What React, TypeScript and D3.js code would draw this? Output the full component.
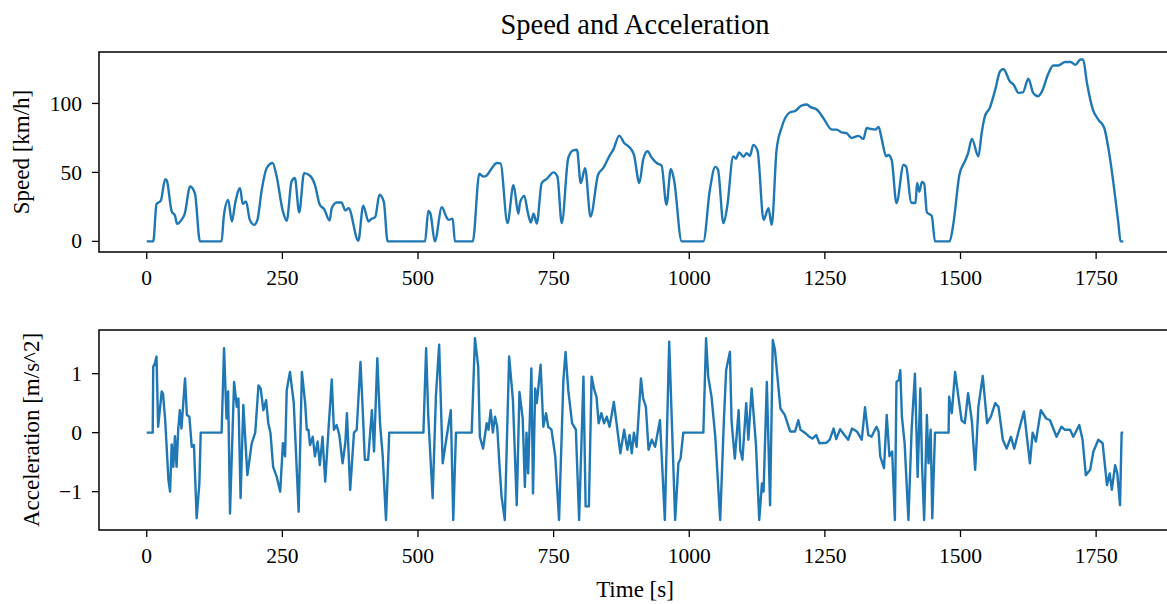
import React from 'react';
import * as d3 from 'd3';

// values (WLTP-like drive cycle)
const speedTime = [0,12,18,26,34,37,46,52,56,64,70,80,89,98,138,142,150,157,163,172,177,183,190,198,204,212,221,232,239,251,258,267,273,281,290,301,310,319,327,337,341,350,359,366,372,390,399,409,413,421,429,437,444,513,519,523,531,544,552,556,564,568,601,613,620,626,636,645,652,665,676,685,688,696,702,708,713,719,728,737,750,757,765,777,786,793,800,808,818,832,842,853,860,871,880,888,898,908,915,923,931,940,949,958,966,972,986,1026,1038,1048,1053,1063,1070,1081,1086,1092,1100,1106,1112,1118,1126,1137,1146,1152,1161,1170,1186,1195,1207,1217,1223,1235,1247,1263,1272,1281,1290,1299,1312,1321,1327,1335,1343,1349,1355,1363,1367,1373,1382,1395,1400,1409,1417,1420,1424,1429,1433,1438,1447,1453,1480,1487,1498,1508,1514,1521,1533,1539,1545,1554,1564,1573,1579,1591,1598,1607,1615,1625,1634,1643,1650,1662,1671,1680,1693,1703,1712,1721,1726,1733,1744,1754,1765,1773,1791,1795,1800];
const speedValue = [0,0,27,29.6,45,44,21.7,18.8,12.7,15.6,20,39.8,34.5,0,0,18,30,14.4,27.7,38.6,27.2,28.9,15.6,12,15.6,37.4,53,56.8,48,21.7,15,43.5,46,21,49.5,47.6,41,26.5,23.4,15.1,24,28.2,28.2,22.4,24,0.5,25.8,14.4,16,17.5,33.8,28.7,0,0,22,20,0,24.8,18,15.6,16.5,0,0,49,47,47.6,53,56.8,56.5,13.2,41,20,28,33,21.7,13.7,20,13,42.3,45.2,50,47,13.2,60.5,66,66.4,42.3,53,18,48.3,53.4,62,66.5,76.7,71.3,68.9,62.9,42.3,59.2,65.3,60.6,56.8,55,26.5,52.5,44.5,0,0,37.4,54,52,13.2,25.3,61.6,60,64.5,61.4,64,62,70,65.5,15.6,24,12,66.5,82.2,93.6,94.5,98.5,99.2,97.5,95.6,89.5,81,81,79,78.5,75,76.5,74.3,82.2,81.5,81,83,73.8,61.6,62.6,59.2,27.7,55.6,54,28.2,27.7,42.3,36,43,42,21,18.5,0,0,13.2,48.3,58,64,74.3,61.6,78.6,90.7,96.8,110,123.4,125,116,113.6,107.7,108,118,107.7,105.2,108.6,121.7,127.5,127.5,130,130,128,131.9,131.9,115,95.6,88.3,82.2,66.5,13.2,0,0];

const accelTime = [0,11,12,15,18,21,27.6,30,34,40,43,46,49,52,55,58,61,64,70.6,74,78.6,83,87,92,97,99.5,138,142.5,147,150,153.5,161,166,169,173,178,185.5,193.5,200,206,210,215,220,224,228,233,239.6,246,251,255,258,264,271,280,286,292,295,298,301,306,310,315,319,324,329,335,341,345,350,355,361,366,369,375,382,387,394,398,402,408,415,419,425,430,435,441,447,510,515,519,527,533,539,545.5,552,560.5,565,570,599,605,611,614,620,626.6,630,634,638,642,646,650,654,660,668,675,682,687,693,697,700,703,709,712,716,719,722,726,731,736,740,746,753,760,768,772,777,784,791,797,805,809,815,820,825,829,833,838,843,848,853,857,861,866,873,880,886,890,894,898,903,911,915,920,925,931,937,946,955,963,974,980,984,989,1026,1031,1035,1041,1048,1057,1064,1068,1075,1078,1084,1091,1094,1098,1105,1109,1115,1123,1129,1134,1137,1143,1149,1154,1158,1162,1168,1176,1186,1195,1201,1205,1213,1220,1227,1234,1240,1253,1259,1266,1271,1278,1286,1293,1300,1309,1318,1324,1330,1336,1345,1349,1352,1359,1364,1369,1374,1379,1382,1386,1389,1392,1397,1404,1410,1416,1421,1426,1429,1433,1438,1441,1445,1448,1453,1478,1479,1484,1490,1496,1502,1508,1514,1521,1527,1533,1541,1549,1556,1564,1570,1578,1585,1593,1599,1607,1617,1628,1633,1639,1648,1658,1665,1677,1686,1692,1702,1708,1719,1725,1731,1739,1745,1754,1762,1770,1775,1779,1785,1789,1794,1797,1800];
const accelValue = [0,0,1.12,1.17,1.29,0.1,0.7,0.66,0.21,-0.8,-1.0,-0.2,-0.58,-0.06,-0.58,0.05,0.38,0.07,0.92,0.3,0.27,-0.24,-0.21,-1.45,-0.86,0,0,1.43,0.24,0.7,-1.37,0.86,0.44,0.58,-1.11,0.47,-0.72,-0.18,0,0.8,0.75,0.38,0.55,0.16,0,-0.58,-0.75,-1.0,-0.18,-0.4,0.72,1.03,0.5,-1.34,1.03,0.5,0.05,0.05,-0.21,-0.07,-0.4,-0.15,-0.55,-0.07,-0.83,0.05,0.9,0.05,0.13,-0.04,-0.52,-0.18,0.33,-0.97,0,0.05,1.2,0.41,-0.46,-0.46,0.38,-0.32,1.26,0.16,-0.4,-1.48,0,0,1.43,0.27,-1.11,0.61,1.49,-0.52,-0.12,0.38,-1.48,0,0,1.6,1.12,-0.07,-0.27,0.16,0.05,0.38,0,0.27,0.1,-0.52,-1.08,-1.48,1.29,0.55,-1.23,0.69,0.24,-0.92,0,-0.69,1.09,-1.03,0.75,0.5,0.78,1.15,0.1,0.33,0.1,0.05,-0.4,-1.48,0.89,1.37,0.72,0.16,0.05,-1.48,0.95,-1.25,-1.25,0.95,0.72,0.61,0.16,0.33,0.16,0.27,0.1,0.3,0.52,0.16,-0.35,0.05,-0.29,-0.04,-0.35,0,-0.24,0.92,0.58,0.44,-0.29,-0.12,-0.24,0.21,-1.48,1.54,-1.48,-0.52,-0.44,0,0,1.6,0.95,0.61,-0.07,-1.48,0.24,1.06,1.37,0.19,-0.44,0.38,-0.29,-0.46,0.5,-0.12,0.75,-0.21,-1.48,-0.86,-1.0,0.86,-1.23,1.57,1.4,1.0,0.41,0.3,0.02,0.02,0.21,0.05,0,-0.06,-0.1,-0.04,-0.18,-0.17,-0.12,0.07,-0.11,0.06,-0.04,-0.12,0.07,0.02,-0.12,0.43,-0.04,-0.07,0.1,0.02,-0.4,-0.6,0.3,-0.4,-0.32,-1.48,0.86,0.89,1.06,0.27,-0.18,-1.48,0.07,1.0,-0.75,0.75,-0.52,-1.48,0.3,-0.52,0.05,-1.45,0,0,0.61,0.33,1.03,0.61,0.21,0.16,0.67,0.19,-0.63,0.44,0.96,0.16,0.27,0.5,0.44,-0.12,-0.27,-0.07,-0.27,0.02,0.36,-0.52,0,-0.15,0.38,0.24,0.21,-0.07,0.1,0.05,0.05,-0.07,0.13,-0.12,-0.72,-0.63,-0.32,-0.12,-0.18,-0.89,-0.69,-0.97,-0.55,-0.69,-1.23,0,0];

const timeTicks = [0, 250, 500, 750, 1000, 1250, 1500, 1750];
const speedTicks = [0, 50, 100];
const accelTicks = [-1, 0, 1];

const font = '"Liberation Serif", "Times New Roman", serif';
const lineColor = '#1f77b4';

const layout = {
  left: 99,
  right: 1171,
  top: {y0: 52, y1: 252},
  bottom: {y0: 330, y1: 530},
  tickSize: 7,
  tickFont: 21.5,
  labelFont: 23
};

const fmt = (v) => d3.format('d')(v);

function Panel({t, v, yDomain, yTicks, y0, y1, ylabel, ylabelX, xScale, curve}) {
  const yScale = d3.scaleLinear().domain(yDomain).range([y1, y0]);
  const line = d3.line().x((d) => xScale(d[0])).y((d) => yScale(d[1])).curve(curve);
  const pts = t.map((d, i) => [d, v[i]]);

  return (
    <g>
      <path d={line(pts)} fill="none" stroke={lineColor} strokeWidth={2.4} strokeLinejoin="round" />
      <rect x={layout.left} y={y0} width={layout.right - layout.left} height={y1 - y0}
            fill="none" stroke="#000" strokeWidth={1.5} />
      {timeTicks.map((tk) => (
        <g key={'x' + tk}>
          <line x1={xScale(tk)} x2={xScale(tk)} y1={y1} y2={y1 + layout.tickSize} stroke="#000" strokeWidth={1.3} />
          <text x={xScale(tk)} y={y1 + 33} textAnchor="middle" fontSize={layout.tickFont} fontFamily={font}>{fmt(tk)}</text>
        </g>
      ))}
      {yTicks.map((tk) => (
        <g key={'y' + tk}>
          <line x1={layout.left - layout.tickSize} x2={layout.left} y1={yScale(tk)} y2={yScale(tk)} stroke="#000" strokeWidth={1.3} />
          <text x={layout.left - 17} y={yScale(tk)} dy="0.33em" textAnchor="end" fontSize={layout.tickFont} fontFamily={font}>{fmt(tk)}</text>
        </g>
      ))}
      <text transform={`translate(${ylabelX},${(y0 + y1) / 2}) rotate(-90)`} textAnchor="middle"
            fontSize={layout.labelFont} fontFamily={font}>{ylabel}</text>
    </g>
  );
}

export default function App() {
  const xScale = d3.scaleLinear().domain([-88, 1888]).range([layout.left, layout.right]);
  const midX = (layout.left + layout.right) / 2;

  return (
    <svg width={1167} height={604} style={{position: 'absolute', left: 0, top: 0, background: '#fff'}}>
      <text x={midX} y={34} textAnchor="middle" fontSize={28.5} fontFamily={font}>Speed and Acceleration</text>
      <Panel t={speedTime} v={speedValue} yDomain={[-7.7, 137.3]} yTicks={speedTicks} curve={d3.curveMonotoneX}
             y0={layout.top.y0} y1={layout.top.y1} ylabel="Speed [km/h]" ylabelX={29} xScale={xScale} />
      <Panel t={accelTime} v={accelValue} yDomain={[-1.65, 1.74]} yTicks={accelTicks} curve={d3.curveLinear}
             y0={layout.bottom.y0} y1={layout.bottom.y1} ylabel="Acceleration [m/s^2]" ylabelX={38.5} xScale={xScale} />
      <text x={midX} y={597} textAnchor="middle" fontSize={layout.labelFont} fontFamily={font}>Time [s]</text>
    </svg>
  );
}
